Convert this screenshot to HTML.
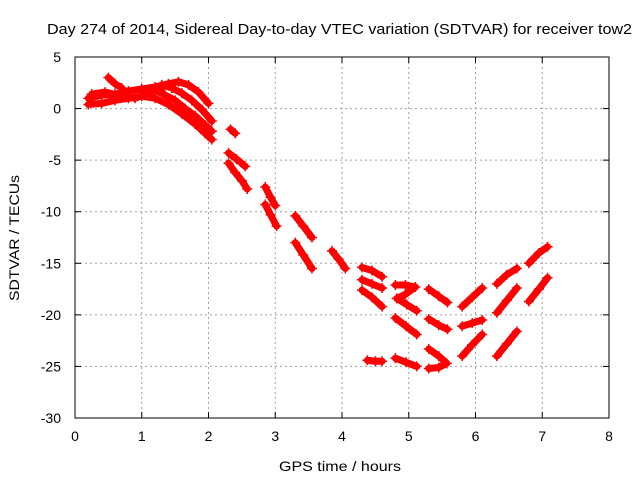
<!DOCTYPE html>
<html><head><meta charset="utf-8"><style>
body{margin:0;background:#fff;}
svg text{font-family:"Liberation Sans",sans-serif;font-size:14px;fill:#000;}
</style></head><body>
<svg id="chart" width="640" height="480" viewBox="0 0 640 480" xmlns="http://www.w3.org/2000/svg">
<rect width="640" height="480" fill="#fff"/>
<text x="47" y="34" textLength="585" lengthAdjust="spacingAndGlyphs" style="font-size:15px">Day 274 of 2014, Sidereal Day-to-day VTEC variation (SDTVAR) for receiver tow2</text>
<g id="grid"></g>
<g id="ticks"></g>
<g id="series"></g>
<rect x="75" y="57" width="534" height="361" fill="none" stroke="#000" stroke-width="1"/>
<text x="340" y="471" text-anchor="middle" textLength="122" lengthAdjust="spacingAndGlyphs">GPS time / hours</text>
<text transform="translate(19,238) rotate(-90)" text-anchor="middle" textLength="126" lengthAdjust="spacingAndGlyphs">SDTVAR / TECUs</text>
</svg>
<script>
const xTicks=[0,1,2,3,4,5,6,7,8];
const yTicks=[5,0,-5,-10,-15,-20,-25,-30];
const trackA=[[0.2,1.0],[0.4,1.3],[0.6,1.4],[0.8,1.7],[1.0,1.9],[1.2,2.1],[1.4,2.4],[1.55,2.6],[1.7,2.3],[1.85,1.6],[2.0,0.5]];
const trackB=[[0.2,0.4],[0.4,0.5],[0.6,0.8],[0.8,1.0],[1.0,1.2],[1.2,1.0],[1.4,0.4],[1.6,-0.5],[1.8,-1.5],[1.95,-2.4],[2.05,-3.0]];
const trackC=[[0.5,3.0],[0.6,2.4],[0.7,2.0]];
const trackD=[[1.0,1.6],[1.2,1.8],[1.35,1.3],[1.5,0.8],[1.65,0.0],[1.8,-0.7],[1.95,-1.6],[2.05,-2.2]];
const trackE=[[1.3,2.3],[1.45,2.0],[1.6,1.5],[1.75,0.8],[1.9,-0.1],[2.05,-1.2]];
const trackF=[[0.25,1.4],[0.45,1.6],[0.7,1.2],[0.9,1.0],[1.1,1.5],[1.3,2.0]];
const trackG=[[2.33,-2.0],[2.4,-2.4]];
const trackH=[[2.3,-4.3],[2.42,-4.9],[2.55,-5.6]];
const trackI=[[2.3,-5.3],[2.4,-6.2],[2.5,-7.0],[2.58,-7.8]];
const trackJ=[[2.85,-7.6],[2.93,-8.6],[3.0,-9.4]];
const trackK=[[2.85,-9.3],[2.93,-10.3],[3.02,-11.4]];
const trackL=[[3.3,-10.4],[3.42,-11.4],[3.55,-12.5]];
const trackM=[[3.3,-13.0],[3.42,-14.2],[3.55,-15.5]];
const trackN=[[3.85,-13.8],[3.95,-14.6],[4.05,-15.5]];
const trackO=[[4.3,-15.4],[4.45,-15.7],[4.6,-16.3]];
const trackP=[[4.3,-16.6],[4.45,-17.0],[4.6,-17.4]];
const trackQ=[[4.3,-17.6],[4.45,-18.3],[4.6,-19.2]];
const trackR=[[4.38,-24.4],[4.5,-24.5],[4.6,-24.5]];
const trackS=[[4.8,-17.1],[4.95,-17.1],[5.1,-17.3],[4.95,-18.0],[4.82,-18.4],[4.97,-19.0],[5.12,-19.6]];
const trackT=[[4.8,-20.3],[4.96,-21.1],[5.12,-21.9]];
const trackU=[[4.8,-24.2],[4.96,-24.6],[5.12,-25.0]];
const trackV=[[5.3,-17.5],[5.45,-18.2],[5.58,-18.8]];
const trackW=[[5.3,-20.4],[5.45,-21.0],[5.58,-21.4]];
const trackX=[[5.3,-23.3],[5.45,-24.0],[5.57,-24.7],[5.45,-25.1],[5.3,-25.2]];
const trackY=[[5.8,-19.2],[5.95,-18.3],[6.1,-17.4]];
const trackZ=[[5.8,-21.1],[5.95,-20.8],[6.1,-20.5]];
const trackAA=[[5.8,-24.0],[5.95,-22.9],[6.1,-21.9]];
const trackAB=[[6.32,-17.0],[6.47,-16.1],[6.62,-15.5]];
const trackAC=[[6.32,-19.8],[6.47,-18.6],[6.62,-17.4]];
const trackAD=[[6.32,-24.0],[6.47,-22.8],[6.62,-21.6]];
const trackAE=[[6.8,-15.0],[6.95,-14.0],[7.08,-13.4]];
const trackAF=[[6.8,-18.7],[6.95,-17.5],[7.08,-16.4]];
const tracks=[trackA,trackB,trackC,trackD,trackE,trackF,trackG,trackH,trackI,trackJ,trackK,trackL,trackM,trackN,trackO,trackP,trackQ,trackR,trackS,trackT,trackU,trackV,trackW,trackX,trackY,trackZ,trackAA,trackAB,trackAC,trackAD,trackAE,trackAF];

const NS="http://www.w3.org/2000/svg";
const L=75,R=609,T=57,B=418;
const xs=v=>L+(v-0)/(8-0)*(R-L);
const ys=v=>B-(v-(-30))/(5-(-30))*(B-T);
function mk(tag,attrs,parent){const e=document.createElementNS(NS,tag);for(const k in attrs)e.setAttribute(k,attrs[k]);parent.appendChild(e);return e;}
const grid=document.getElementById('grid'),ticks=document.getElementById('ticks'),series=document.getElementById('series');
xTicks.forEach(t=>{const x=xs(t);
 if(t>0&&t<8){const g=mk('line',{x1:x,y1:T,x2:x,y2:B,stroke:'#a0a0a0','stroke-dasharray':'2,3'},grid);
 
 }
 mk('line',{x1:x,y1:B,x2:x,y2:B-6,stroke:'#000'},ticks);
 mk('line',{x1:x,y1:T,x2:x,y2:T+6,stroke:'#000'},ticks);
 const tx=mk('text',{x:x,y:B+23,'text-anchor':'middle'},ticks);tx.textContent=t;
 
 
});
yTicks.forEach(t=>{const y=ys(t);
 if(t<5&&t>-30){const g=mk('line',{x1:L,y1:y,x2:R,y2:y,stroke:'#a0a0a0','stroke-dasharray':'2,3'},grid);
 
 }
 mk('line',{x1:L,y1:y,x2:L+6,y2:y,stroke:'#000'},ticks);
 mk('line',{x1:R,y1:y,x2:R-6,y2:y,stroke:'#000'},ticks);
 const tx=mk('text',{x:L-14,y:y+5,'text-anchor':'end'},ticks);tx.textContent=t;
 
 
});
tracks.forEach(tr=>{
 const pl=mk('polyline',{points:tr.map(p=>xs(p[0])+','+ys(p[1])).join(' '),fill:'none',stroke:'#f00','stroke-width':7,'stroke-linecap':'round','stroke-linejoin':'round'},series);
 
 
 tr.forEach(p=>{const x=xs(p[0]),y=ys(p[1]);
  const m=mk('path',{d:`M${x-5},${y}H${x+5}M${x},${y-5}V${y+5}`,stroke:'#f00','stroke-width':1.5},series);
  
  
 });
});
</script>
</body></html>
